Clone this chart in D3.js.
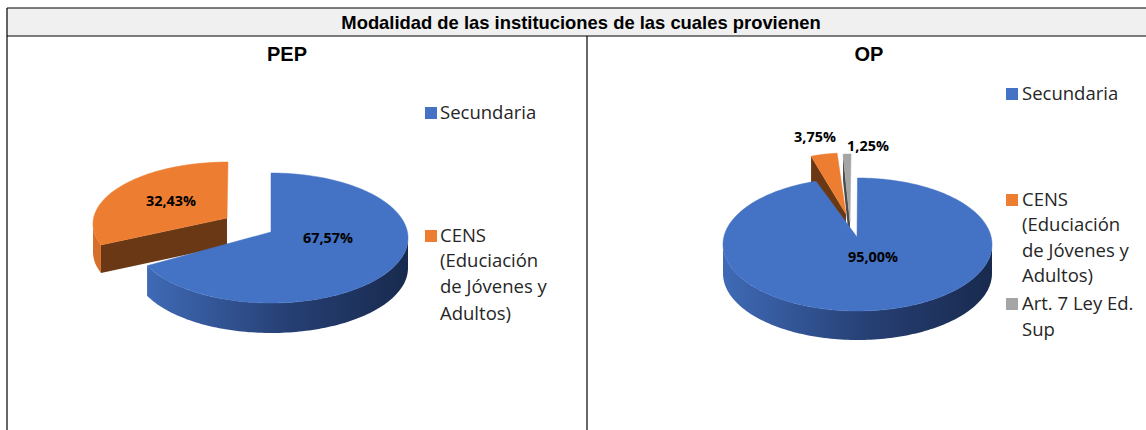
<!DOCTYPE html>
<html><head><meta charset="utf-8">
<script src="https://cdn.jsdelivr.net/npm/d3@7"></script>
<style>html,body{margin:0;padding:0;background:#fff}svg{display:block}</style>
</head><body><svg id="c" width="1146" height="430"></svg>
<script>
const mainTitle = "Modalidad de las instituciones de las cuales provienen";
const pepCategories = ["Secundaria", "CENS (Educiación de Jóvenes y Adultos)"];
const pepValues = [67.57, 32.43];
const opCategories = ["Secundaria", "CENS (Educiación de Jóvenes y Adultos)", "Art. 7 Ley Ed. Sup"];
const opValues = [95.00, 3.75, 1.25];
const sliceColors = ["#4472c4", "#ed7d31", "#a5a5a5"];
const wallColors = ["#3f6ab6", "#6b3815", "#4a4a4a"];

const svg = d3.select("#c");
const defs = svg.append("defs");
const wallGrad = defs.append("linearGradient").attr("id","wall");
wallGrad.append("stop").attr("offset","0").attr("stop-color","#3f6ab6");
wallGrad.append("stop").attr("offset","0.55").attr("stop-color","#263f73");
wallGrad.append("stop").attr("offset","1").attr("stop-color","#182a4e");
const fmt = v => d3.format(".2f")(v).replace(".", ",") + "%";
const pie = d3.pie().sort(null).value(d=>d);
const deg = Math.PI/180;

function pt(g,a,dz=0){return [g.cx+g.rx*Math.sin(a), g.cy-g.ry*Math.cos(a)+dz];}
function rim(g,a0,a1,dz=0){
  const n=Math.max(4,Math.ceil(Math.abs(a1-a0)*40));
  return d3.range(n+1).map(i=>pt(g,a0+(a1-a0)*i/n,dz));
}
const line=d3.line();
function drawSlice(layer,arc0,g,i,fill){
  // g.tilt nudges the projected cut angle to follow the picture's perspective
  const arc={startAngle:arc0.startAngle+(g.tiltStart||0)*deg,endAngle:arc0.endAngle+(g.tiltEnd||0)*deg};
  const depth=g.depth, apex=[g.ax,g.ay];
  if(g.cutStart){
    const p=pt(g,arc.startAngle);
    layer.append("path").attr("d",line([apex,p,[p[0],p[1]+depth],[apex[0],apex[1]+depth]])+"Z").attr("fill",wallColors[i]);
  }
  const a0=Math.max(arc.startAngle,Math.PI/2), a1=Math.min(arc.endAngle,Math.PI*1.5);
  if(a1>a0){
    const top=rim(g,a0,a1), bot=rim(g,a1,a0,depth);
    layer.append("path").attr("d",line(top.concat(bot))+"Z").attr("fill",fill||wallColors[i]);
  }
  layer.append("path").attr("d",line([apex].concat(rim(g,arc.startAngle,arc.endAngle)))+"Z")
    .attr("fill",sliceColors[i]).attr("stroke",sliceColors[i]).attr("stroke-width",0.5);
}
function legend(items,x,tx,size){
  items.forEach(it=>{
    if(it.key!==undefined) svg.append("rect").attr("x",x).attr("y",it.y-6).attr("width",12).attr("height",12).attr("fill",sliceColors[it.key]);
    svg.append("text").attr("x",tx).attr("y",it.y+6).attr("font-family","'Open Sans',sans-serif").attr("font-size",size).attr("fill","#262626").text(it.t);
  });
}
function label(t,x,y){
  svg.append("text").attr("x",x).attr("y",y).attr("text-anchor","middle").attr("font-family","'Open Sans',sans-serif").attr("font-weight",700).attr("font-size",14.4).attr("fill","#000").text(t);
}

// header + frame
svg.append("rect").attr("x",7).attr("y",8).attr("width",1139).attr("height",28).attr("fill","#f0f0f0");
const frame=[[[7,8],[1146,8]],[[7,36],[1146,36]],[[7,8],[7,430]],[[587,36],[587,430]]];
frame.forEach(l=>svg.append("path").attr("d",line(l)).attr("stroke","#000").attr("stroke-width",1.2).attr("fill","none"));
svg.append("text").attr("x",581).attr("y",29).attr("text-anchor","middle").attr("font-family","'Liberation Sans',Arial,sans-serif").attr("font-weight",700).attr("font-size",18.4).text(mainTitle);
["PEP","OP"].forEach((t,i)=>svg.append("text").attr("x",[287,869][i]).attr("y",61).attr("text-anchor","middle").attr("font-family","'Liberation Sans',Arial,sans-serif").attr("font-weight",700).attr("font-size",20).text(t));

// PEP
const pepArcs=pie(pepValues);
const pepL=svg.append("g");
drawSlice(pepL,pepArcs[1],{cx:228,cy:224,rx:135,ry:62,ax:227,ay:218,depth:28,cutStart:true,tiltStart:7},1,"#d56f2b");
drawSlice(pepL,pepArcs[0],{cx:271,cy:238,rx:137,ry:65,ax:271,ay:232,depth:30,tiltEnd:1.5},0,"url(#wall)");
label(fmt(pepValues[0]),328,243);
label(fmt(pepValues[1]),171,206);
legend([{key:0,y:113,t:"Secundaria"},{key:1,y:236,t:"CENS"},{y:261,t:"(Educiación"},{y:287,t:"de Jóvenes y"},{y:314,t:"Adultos)"}],425,440,18.5);

// OP
const opArcs=pie(opValues);
const opL=svg.append("g");
drawSlice(opL,opArcs[2],{cx:851,cy:219,rx:102,ry:65,ax:850,ay:222,depth:26,cutStart:true},2);
drawSlice(opL,opArcs[1],{cx:846,cy:218,rx:113,ry:65,ax:846,ay:214,depth:26,cutStart:true},1);
drawSlice(opL,opArcs[0],{cx:857.5,cy:244.5,rx:134.5,ry:66.5,ax:857,ay:237,depth:29},0,"url(#wall)");
label(fmt(opValues[0]),873,262);
label(fmt(opValues[1]),815,142);
label(fmt(opValues[2]),868,151);
legend([{key:0,y:94,t:"Secundaria"},{key:1,y:200,t:"CENS"},{y:225,t:"(Educiación"},{y:251,t:"de Jóvenes y"},{y:276,t:"Adultos)"},{key:2,y:304,t:"Art. 7 Ley Ed."},{y:330,t:"Sup"}],1006,1022,18.5);
</script></body></html>
